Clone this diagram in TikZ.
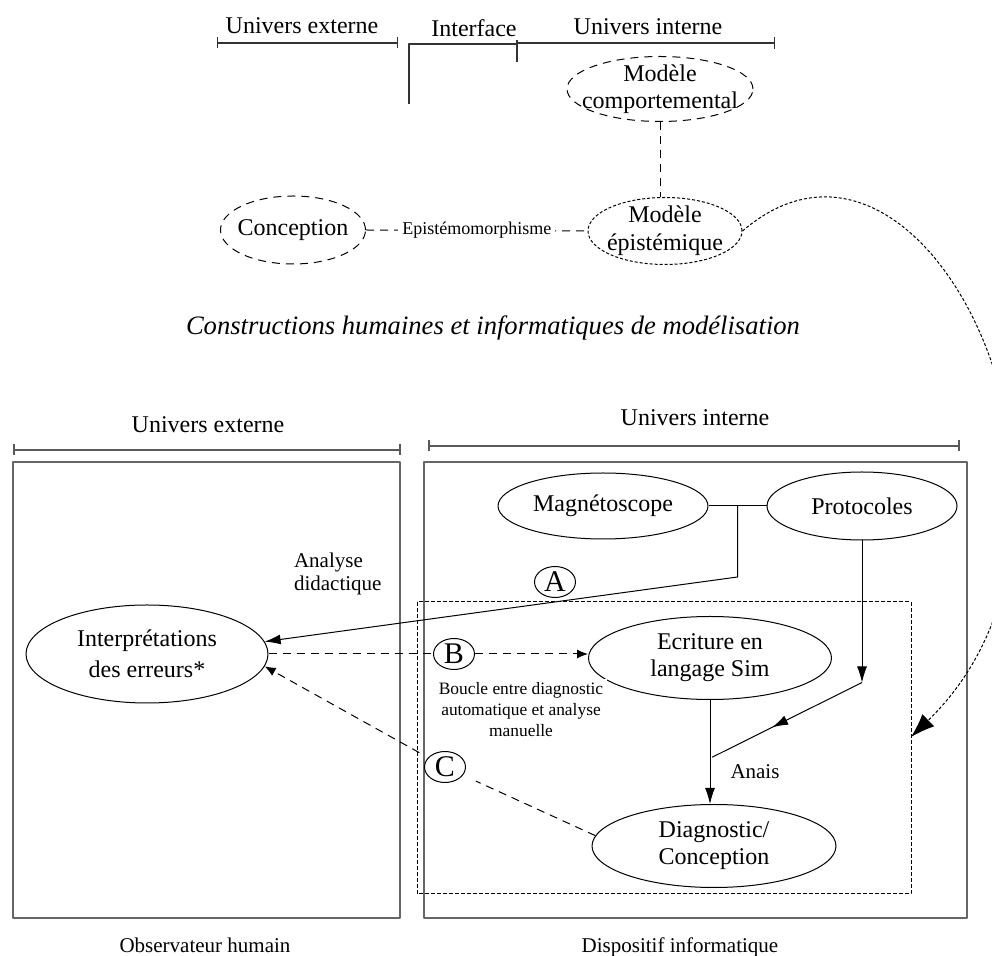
\documentclass[tikz,border=0pt]{standalone}
\usepackage{fontspec}
\setmainfont{Liberation Serif}
\usetikzlibrary{arrows.meta,shapes.geometric,calc}
\tikzset{
  oval/.style={ellipse, draw, line width=0.5pt, inner sep=-40pt, align=center, font=\fontsize{12}{13.5}\selectfont},
  dashoval/.style={oval, dash pattern=on 4pt off 3pt},
  dotoval/.style={oval, dash pattern=on 1.5pt off 1pt},
  tag/.style={ellipse, draw, line width=0.5pt, inner sep=0pt, minimum width=20.5pt, minimum height=15.5pt, font=\fontsize{15}{15}\selectfont},
  boxline/.style={draw=black!60, line width=0.9pt},
  bracket/.style={draw=black!80, line width=0.6pt},
  lbl/.style={font=\fontsize{12}{14}\selectfont},
  smalltxt/.style={font=\fontsize{10.5}{11.5}\selectfont},
  tinytxt/.style={font=\fontsize{8.7}{10.5}\selectfont},
  link/.style={line width=0.5pt},
  dlink/.style={line width=0.5pt, dash pattern=on 4pt off 3pt},
  sarrow/.style={-{Latex[length=5.5pt,width=4.5pt]}},
}
\begin{document}
\begin{tikzpicture}[x=0.5pt,y=-0.5pt,line join=round,>={Latex[length=8pt,width=5pt]}]
\useasboundingbox (0,0) rectangle (992,956);
\node[lbl] (extT) at (302,26) {Univers externe};
\node[lbl] (intf) at (474,28) {Interface};
\node[lbl] (intT) at (648,27) {Univers interne};
\draw[bracket,{Bar[width=5.5pt]}-{Bar[width=5.5pt]}] (217,43) -- (398,43);
\draw[bracket] (409,104) -- (409,44) -- (517,44);
\draw[bracket] (517,40) -- (517,62);
\draw[bracket,-{Bar[width=6pt]}] (517,43) -- (775,43);
\node[dashoval,minimum width=93pt,minimum height=32.5pt] (comp) at (660,89) {Modèle\\comportemental};
\node[dotoval,minimum width=77pt,minimum height=33.5pt,font=\fontsize{12}{14}\selectfont] (epi) at (665,231) {Modèle\\épistémique};
\node[dashoval,minimum width=72.5pt,minimum height=34pt] (conc) at (293,230) {Conception};
\draw[dlink] (comp.south) -- (comp.south |- epi.north);
\draw[dlink] (conc.east) -- node[fill=white,inner sep=2pt,font=\fontsize{9}{10}\selectfont] (epimor) {Epistémomorphisme} (epi.west);
\node[font=\itshape\fontsize{13.3}{15}\selectfont] (ttl) at (493,328) {Constructions humaines et informatiques de modélisation};
\node[lbl] (extB) at (208,425) {Univers externe};
\node[lbl] (intB) at (695,418) {Univers interne};
\draw[bracket,line width=0.8pt,draw=black!65,{Bar[width=5.5pt]}-{Bar[width=5.5pt]}] (13,450) -- (401,450);
\draw[bracket,line width=0.8pt,draw=black!65,{Bar[width=5.5pt]}-{Bar[width=5.5pt]}] (428,446) -- (960,446);
\draw[boxline] (13,462) rectangle (400,918);
\draw[boxline] (424,462) rectangle (967,918);
\draw[link,dash pattern=on 2pt off 1pt] (417,602) rectangle (911,894);
\node[oval,minimum width=105pt,minimum height=33pt] (mag) at (603,506) {Magnétoscope};
\node[oval,minimum width=95pt,minimum height=34pt] (prot) at (862,506) {Protocoles};
\node[oval,minimum width=121pt,minimum height=49pt,font=\fontsize{12}{15.5}\selectfont] (interp) at (147,654) {Interprétations\\des erreurs*};
\node[oval,minimum width=121.5pt,minimum height=41.5pt] (ecr) at (710,658) {Ecriture en\\langage Sim};
\node[oval,minimum width=122pt,minimum height=41.5pt] (diag) at (714,846) {Diagnostic/\\Conception};
\node[smalltxt,align=left,anchor=west] (anadid) at (287,574) {Analyse\\didactique};
\node[tinytxt,align=center,fill=white,inner sep=2pt] (boucle) at (521,710) {Boucle entre diagnostic\\automatique et analyse\\manuelle};
\node[smalltxt] (anais) at (755,772) {Anais};
\node[tag] (tagA) at (555,582) {A};
\node[tag] (tagB) at (454,654) {B};
\node[tag] (tagC) at (445,767) {C};
\coordinate (jM) at ($(mag.east)!0.5!(prot.west)$);
\coordinate (jA) at ($(jM)+(0,71)$);
\coordinate (jP) at ($(prot.south)+(0,142)$);
\coordinate (jD) at ($(ecr.south)!0.55!(diag.north)$);
\coordinate (crvEnd) at (911,737);
\draw[link] (mag.east) -- (prot.west);
\draw[link,->] (jM) -- (jA) -- (interp.6);
\draw[dlink] (interp.east) -- (tagB);
\draw[dlink,sarrow] (tagB) -- (tagB -| ecr.west);
\draw[dlink,shorten >=7pt] (diag.175) -- (tagC);
\draw[dlink,sarrow,shorten <=5pt] (tagC) -- (interp.-6);
\draw[link,->] (prot.south) -- (jP);
\draw[link,->] (jP) -- ($(jP)!0.6!(jD)$);
\draw[link] ($(jP)!0.55!(jD)$) -- (jD);
\draw[link,->] (ecr.south) -- (ecr.south |- diag.north);
\draw[link,dash pattern=on 1.5pt off 1pt,-{Latex[length=12pt,width=8.5pt]}] (epi.east) .. controls (930,70) and (1135,520) .. (crvEnd);
\node[smalltxt] (obs) at (205,945) {Observateur humain};
\node[smalltxt] (disp) at (680,947) {Dispositif informatique};
\end{tikzpicture}
\end{document}
